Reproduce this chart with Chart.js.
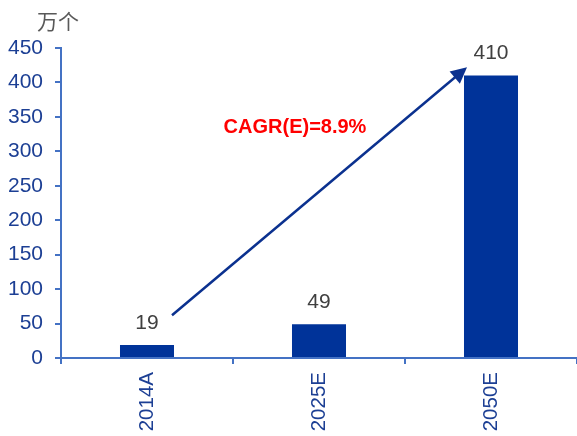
<!DOCTYPE html>
<html><head><meta charset="utf-8">
<script src="https://cdn.jsdelivr.net/npm/chart.js@4/dist/chart.umd.min.js"></script>
<style>html,body{margin:0;padding:0;background:#fff}canvas{display:block}</style>
</head><body>
<canvas id="c" width="577" height="436"></canvas>
<script>
const categories = ["2014A", "2025E", "2050E"];
const values = [19, 49, 410];
const yTicks = [0, 50, 100, 150, 200, 250, 300, 350, 400, 450];
const unitLabel = "万个";
const cagrLabel = "CAGR(E)=8.9%";
const arrowFrom = {index: 0, value: 62};
const arrowTo = {index: 2, value: 422};

const overlay = {
  id: 'overlay',
  afterDatasetsDraw(chart) {
    const ctx = chart.ctx;
    const xs = chart.scales.x, ys = chart.scales.y;
    const meta = chart.getDatasetMeta(0);
    ctx.save();
    // data labels
    ctx.font = '21px "Liberation Sans", Arial, sans-serif';
    ctx.fillStyle = '#404040';
    ctx.textAlign = 'center';
    ctx.textBaseline = 'middle';
    meta.data.forEach((bar, i) => {
      ctx.fillText(String(values[i]), bar.x, bar.y - 22);
    });
    // unit
    ctx.font = '21px "Noto Sans CJK SC", sans-serif';
    ctx.fillStyle = '#595959';
    ctx.fillText(unitLabel, 58, 21);
    // arrow
    const b0 = meta.data[arrowFrom.index], b2 = meta.data[arrowTo.index];
    const x1 = b0.x + 25, y1 = ys.getPixelForValue(arrowFrom.value);
    const x2 = b2.x - b2.width / 2 + 3, y2 = ys.getPixelForValue(arrowTo.value);
    const ang = Math.atan2(y2 - y1, x2 - x1);
    const headL = 16, headW = 8;
    ctx.strokeStyle = '#0B318F';
    ctx.fillStyle = '#0B318F';
    ctx.lineWidth = 2.5;
    ctx.beginPath();
    ctx.moveTo(x1, y1);
    ctx.lineTo(x2 - Math.cos(ang) * headL * 0.8, y2 - Math.sin(ang) * headL * 0.8);
    ctx.stroke();
    ctx.beginPath();
    ctx.moveTo(x2, y2);
    ctx.lineTo(x2 - Math.cos(ang) * headL + Math.sin(ang) * headW, y2 - Math.sin(ang) * headL - Math.cos(ang) * headW);
    ctx.lineTo(x2 - Math.cos(ang) * headL - Math.sin(ang) * headW, y2 - Math.sin(ang) * headL + Math.cos(ang) * headW);
    ctx.closePath();
    ctx.fill();
    // CAGR text
    ctx.font = 'bold 20px "Liberation Sans", Arial, sans-serif';
    ctx.fillStyle = '#FF0000';
    ctx.textAlign = 'center';
    const xm = (meta.data[0].x + meta.data[1].x) / 2 + 62;
    ctx.fillText(cagrLabel, xm, ys.getPixelForValue(334));
    ctx.restore();
  }
};

new Chart(document.getElementById('c'), {
  type: 'bar',
  data: {
    labels: categories,
    datasets: [{
      data: values,
      backgroundColor: '#003399',
      borderWidth: 0,
      categoryPercentage: 1,
      barPercentage: 0.314
    }]
  },
  options: {
    responsive: false,
    animation: false,
    events: [],
    layout: {padding: {top: 48, right: 0, left: 0, bottom: 0}},
    plugins: {legend: {display: false}, tooltip: {enabled: false}},
    scales: {
      x: {
        afterFit(s) { s.height = 78; },
        border: {display: true, color: '#4472C4', width: 2},
        grid: {display: true, drawOnChartArea: false, offset: true, color: '#4472C4', lineWidth: 2, tickLength: 6},
        ticks: {
          color: '#1C3F94',
          font: {size: 20.5, family: '"Liberation Sans", Arial, sans-serif'},
          minRotation: 90, maxRotation: 90, padding: 8
        }
      },
      y: {
        min: 0, max: 450,
        afterFit(s) { s.width = 61; },
        afterBuildTicks(s) { s.ticks = yTicks.map(v => ({value: v})); },
        border: {display: true, color: '#4472C4', width: 2},
        grid: {display: true, drawOnChartArea: false, color: '#4472C4', lineWidth: 2, tickLength: 6},
        ticks: {
          color: '#1C3F94',
          font: {size: 21, family: '"Liberation Sans", Arial, sans-serif'},
          padding: 12
        }
      }
    }
  },
  plugins: [overlay]
});
</script>
</body></html>
